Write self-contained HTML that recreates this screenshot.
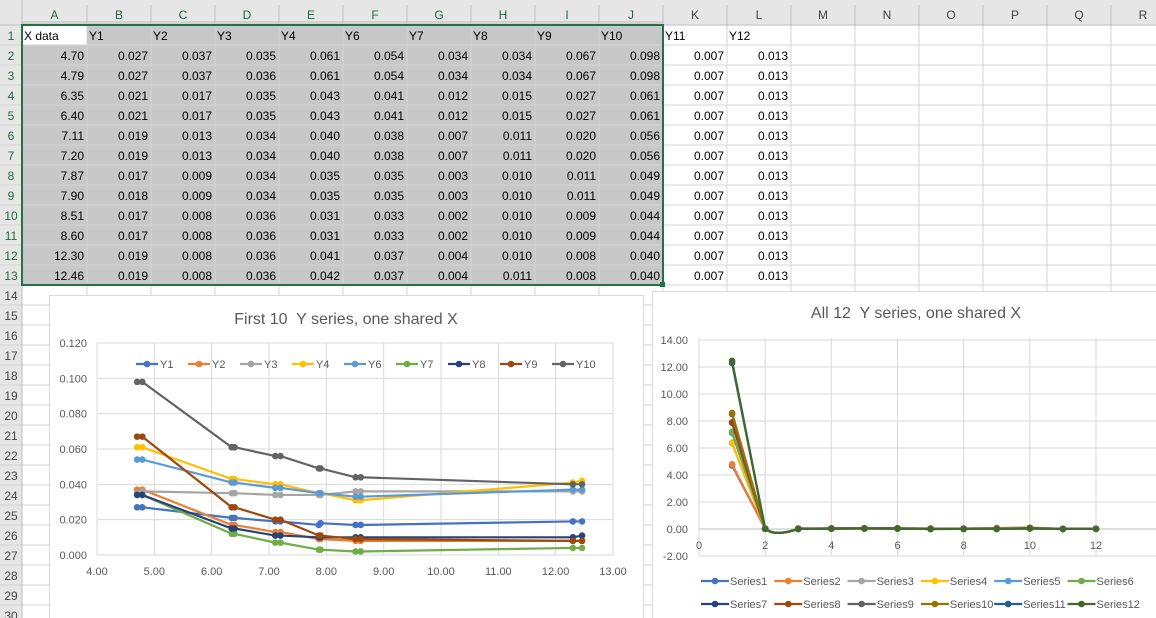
<!DOCTYPE html>
<html><head><meta charset="utf-8"><style>
body{margin:0;width:1156px;height:618px;overflow:hidden;background:#fff;font-family:"Liberation Sans",sans-serif}
svg{display:block}
</style></head><body>
<svg id="s" width="1156" height="618" xmlns="http://www.w3.org/2000/svg" font-family="Liberation Sans, sans-serif"></svg>
<script>
const S=document.getElementById('s');let h='';
const X=[4.70,4.79,6.35,6.40,7.11,7.20,7.87,7.90,8.51,8.60,12.30,12.46];
const Y=[[.027,.027,.021,.021,.019,.019,.017,.018,.017,.017,.019,.019],
[.037,.037,.017,.017,.013,.013,.009,.009,.008,.008,.008,.008],
[.035,.036,.035,.035,.034,.034,.034,.034,.036,.036,.036,.036],
[.061,.061,.043,.043,.040,.040,.035,.035,.031,.031,.041,.042],
[.054,.054,.041,.041,.038,.038,.035,.035,.033,.033,.037,.037],
[.034,.034,.012,.012,.007,.007,.003,.003,.002,.002,.004,.004],
[.034,.034,.015,.015,.011,.011,.010,.010,.010,.010,.010,.011],
[.067,.067,.027,.027,.020,.020,.011,.011,.009,.009,.008,.008],
[.098,.098,.061,.061,.056,.056,.049,.049,.044,.044,.040,.040],
[.007,.007,.007,.007,.007,.007,.007,.007,.007,.007,.007,.007],
[.013,.013,.013,.013,.013,.013,.013,.013,.013,.013,.013,.013]];
const C=['#4472C4','#ED7D31','#A5A5A5','#FFC000','#5B9BD5','#70AD47','#264478','#9E480E','#636363','#997300','#255E91','#43682B'];
const hdr=['X data','Y1','Y2','Y3','Y4','Y6','Y7','Y8','Y9','Y10','Y11','Y12'];
const cx=[22];for(let i=0;i<18;i++)cx.push(i==0?87:cx[cx.length-1]+64);
const letters='ABCDEFGHIJKLMNOPQR';
h+=`<rect x="0" y="0" width="1156" height="25" fill="#e6e6e6"/><rect x="0" y="0" width="22" height="618" fill="#e6e6e6"/>`;
h+=`<rect x="22" y="25" width="641" height="260" fill="#c8c8c8"/><rect x="23" y="26" width="64" height="19" fill="#fff"/>`;
for(let i=0;i<18;i++){let x0=cx[i],x1=cx[i+1]||1200;
 h+=`<line x1="${x1}" y1="25" x2="${x1}" y2="618" stroke="#d4d4d4"/><line x1="${x1}" y1="5" x2="${x1}" y2="25" stroke="#bdbdbd"/>`;
 h+=`<text x="${(x0+x1)/2}" y="19" font-size="12" text-anchor="middle" fill="${i<10?'#1e6b40':'#444'}">${letters[i]}</text>`;}
h+=`<rect x="22" y="21" width="641" height="4" fill="#c4c4c4" opacity="0.6"/>`;
for(let r=1;r<=30;r++){let y=25+(r-1)*20;
 h+=`<line x1="0" y1="${y+20}" x2="1156" y2="${y+20}" stroke="#d4d4d4"/>`;
 h+=`<text x="11" y="${y+15}" font-size="12" text-anchor="middle" fill="${r<=13?'#1e6b40':'#444'}">${r}</text>`;}
h+=`<line x1="22" y1="0" x2="22" y2="618" stroke="#bdbdbd"/><line x1="0" y1="25" x2="1156" y2="25" stroke="#bdbdbd"/>`;
for(let c=0;c<12;c++)h+=`<text x="${cx[c]+2}" y="40" font-size="12" fill="#000">${hdr[c]}</text>`;
for(let r=0;r<12;r++){let y=25+(r+1)*20+15;
 h+=`<text x="${cx[1]-3}" y="${y}" font-size="12" text-anchor="end">${X[r].toFixed(2)}</text>`;
 for(let c=0;c<11;c++)h+=`<text x="${cx[c+2]-3}" y="${y}" font-size="12" text-anchor="end">${Y[c][r].toFixed(3)}</text>`;}
h+=`<rect x="22" y="25" width="641" height="260" fill="none" stroke="#217346" stroke-width="2"/><rect x="660" y="282" width="5" height="5" fill="#217346"/>`;
h+=`<rect x="49.5" y="295.5" width="594" height="330" fill="#fff" stroke="#d9d9d9"/>`;
h+=`<text x="346" y="324" font-size="16" text-anchor="middle" fill="#595959">First 10&#160; Y series, one shared X</text>`;
const px=v=>97+(v-4)*(613-97)/9, py=v=>555-v*(555-343)/0.12;
for(let i=0;i<=6;i++){let y=py(i*0.02);h+=`<line x1="97" y1="${y}" x2="613" y2="${y}" stroke="#d9d9d9"/><text x="87" y="${y+4}" font-size="11" text-anchor="end" fill="#595959">${(i*0.02).toFixed(3)}</text>`;}
for(let i=4;i<=13;i++){let x=px(i);h+=`<line x1="${x}" y1="343" x2="${x}" y2="555" stroke="#d9d9d9"/><text x="${x}" y="575" font-size="11" text-anchor="middle" fill="#595959">${i.toFixed(2)}</text>`;}
const s1=[0,1,2,3,4,5,6,7,8],n1=['Y1','Y2','Y3','Y4','Y6','Y7','Y8','Y9','Y10'];
s1.forEach((k,j)=>{let pts=X.map((x,i)=>px(x)+','+py(Y[k][i])).join(' ');
 h+=`<polyline points="${pts}" fill="none" stroke="${C[j]}" stroke-width="2.2"/>`;
 X.forEach((x,i)=>h+=`<circle cx="${px(x)}" cy="${py(Y[k][i])}" r="3.3" fill="${C[j]}"/>`);
 let lx=136+j*52;h+=`<line x1="${lx}" y1="364" x2="${lx+22}" y2="364" stroke="${C[j]}" stroke-width="2.2"/><circle cx="${lx+11}" cy="364" r="3.3" fill="${C[j]}"/><text x="${lx+24}" y="368" font-size="11" fill="#595959">${n1[j]}</text>`;});
h+=`<rect x="652.5" y="291.5" width="510" height="330" fill="#fff" stroke="#d9d9d9"/>`;
h+=`<text x="916" y="318" font-size="16" text-anchor="middle" fill="#595959">All 12&#160; Y series, one shared X</text>`;
const qx=v=>699+v*(1096-699)/12, qy=v=>529-v*27/2;
for(let i=-1;i<=7;i++){let y=qy(i*2);h+=`<line x1="699" y1="${y}" x2="1156" y2="${y}" stroke="#d9d9d9"/><text x="688" y="${y+4}" font-size="11" text-anchor="end" fill="#595959">${(i*2).toFixed(2)}</text>`;}
for(let i=0;i<=12;i+=2){let x=qx(i);h+=`<line x1="${x}" y1="338" x2="${x}" y2="556" stroke="#d9d9d9"/><text x="${x}" y="549" font-size="11" text-anchor="middle" fill="#595959">${i}</text>`;}
h+=`<line x1="699" y1="529" x2="1156" y2="529" stroke="#bfbfbf"/>`;
for(let r=0;r<12;r++){let vals=[X[r]].concat(Y.map(a=>a[r]));
 let pts=vals.map((v,i)=>[qx(i+1),qy(v)]);
 let d='M'+pts[0]+' L'+pts[1]+' Q'+qx(2.3)+','+qy(-0.6)+' '+pts[2];for(let i=3;i<12;i++)d+=' L'+pts[i];
 h+=`<path d="${d}" fill="none" stroke="${C[r]}" stroke-width="2.2"/>`;
 pts.forEach(p=>h+=`<circle cx="${p[0]}" cy="${p[1]}" r="3.3" fill="${C[r]}"/>`);
 let lx=701+(r%6)*73.3,ly=r<6?581:604;
 h+=`<line x1="${lx}" y1="${ly}" x2="${lx+28}" y2="${ly}" stroke="${C[r]}" stroke-width="2.2"/><circle cx="${lx+14}" cy="${ly}" r="3.3" fill="${C[r]}"/><text x="${lx+29}" y="${ly+4}" font-size="11" fill="#595959">Series${r+1}</text>`;}
S.innerHTML=h;
</script>
</body></html>
